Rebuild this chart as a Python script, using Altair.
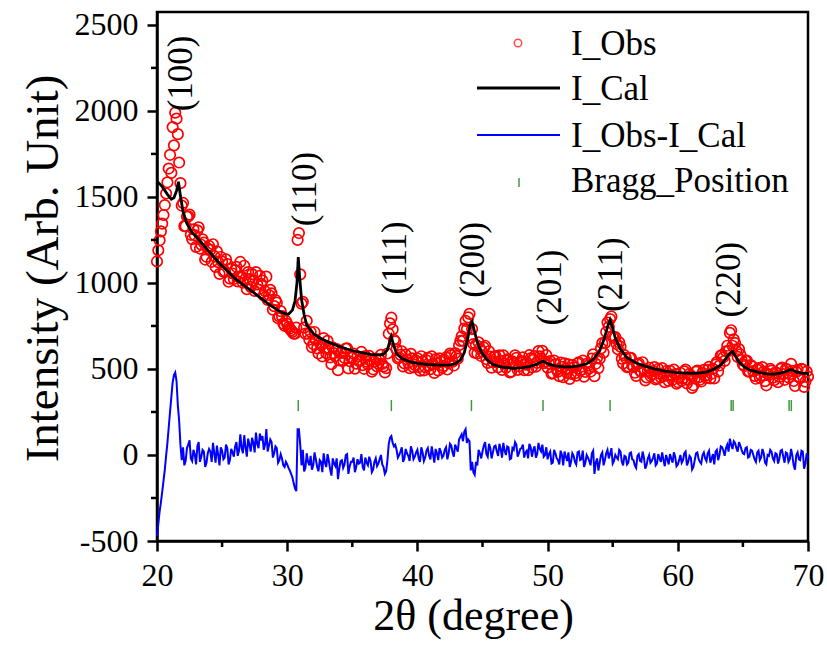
import altair as alt
import pandas as pd

# ---------------- data ----------------
# scan grid (0.2 deg step) and the interleaved mid points
two_theta = [round(20 + 0.2 * i, 1) for i in range(251)]
two_theta_mid = [round(20.1 + 0.2 * i, 1) for i in range(250)]

i_obs = [
    1125, 1248, 1345, 1453, 1585, 1745, 1906, 1990, 1865, 1580,
    1465, 1330, 1387, 1280, 1312, 1210, 1323, 1222, 1234, 1152,
    1215, 1123, 1156, 1184, 1053, 1124, 1069, 1110, 1025, 1055,
    1075, 1009, 1122, 1001, 1024, 1063, 977, 1015, 1063, 962,
    995, 928, 1037, 930, 940, 865, 885, 806, 807, 751,
    762, 735, 715, 705, 1250, 1050, 890, 705, 705, 715,
    645, 670, 590, 637, 679, 592, 620, 528, 592, 616,
    550, 595, 565, 620, 545, 566, 502, 574, 550, 522,
    575, 527, 550, 498, 561, 530, 582, 515, 505, 705,
    798, 670, 615, 568, 603, 532, 555, 505, 562, 524,
    562, 490, 543, 511, 565, 499, 528, 557, 492, 542,
    517, 567, 533, 581, 520, 575, 638, 690, 735, 730,
    820, 732, 595, 590, 620, 600, 635, 535, 572, 540,
    575, 510, 547, 579, 507, 550, 484, 534, 565, 516,
    546, 493, 536, 580, 510, 575, 535, 573, 605, 542,
    507, 546, 476, 527, 484, 537, 452, 502, 527, 472,
    509, 461, 538, 496, 455, 530, 503, 560, 458, 565,
    560, 650, 650, 770, 790, 690, 685, 615, 630, 532,
    565, 515, 565, 512, 460, 533, 482, 501, 451, 507,
    470, 511, 447, 473, 505, 423, 461, 489, 437, 470,
    424, 478, 447, 496, 436, 461, 405, 485, 451, 427,
    495, 448, 512, 472, 445, 540, 520, 580, 547, 635,
    710, 635, 650, 570, 585, 527, 548, 485, 522, 487,
    443, 505, 463, 485, 405, 466, 490, 435, 476, 454,
    508, 437, 498, 470, 489, 401, 495, 447, 496, 426,
    455,
]
i_obs_mid = [
    1190, 1300, 1395, 1520, 1665, 1640, 1800, 1955, 1700, 1450,
    1330, 1385, 1397, 1255, 1278, 1306, 1200, 1253, 1136, 1199,
    1192, 1225, 1093, 1121, 1151, 1066, 1137, 1007, 1082, 1023,
    1094, 1033, 1036, 1100, 964, 1022, 1051, 954, 992, 1041,
    1014, 952, 901, 960, 845, 900, 795, 836, 764, 779,
    743, 724, 705, 740, 1290, 880, 740, 780, 670, 627,
    715, 620, 651, 573, 620, 663, 567, 625, 574, 493,
    593, 548, 618, 503, 568, 589, 531, 547, 599, 501,
    543, 576, 484, 542, 515, 556, 529, 480, 590, 765,
    730, 660, 561, 582, 515, 583, 537, 588, 510, 548,
    511, 574, 492, 550, 519, 573, 477, 532, 562, 507,
    552, 497, 589, 542, 592, 560, 663, 665, 780, 800,
    680, 645, 640, 655, 575, 625, 557, 603, 508, 572,
    538, 579, 495, 533, 556, 480, 544, 579, 495, 541,
    567, 525, 493, 562, 553, 513, 604, 562, 534, 581,
    533, 473, 549, 495, 458, 512, 532, 477, 442, 523,
    475, 532, 490, 548, 483, 519, 485, 585, 530, 505,
    620, 595, 715, 745, 805, 680, 645, 655, 560, 580,
    510, 565, 521, 478, 527, 490, 539, 434, 489, 459,
    488, 439, 500, 451, 459, 487, 430, 463, 496, 415,
    448, 432, 486, 416, 471, 390, 445, 491, 437, 478,
    461, 495, 445, 501, 525, 485, 578, 568, 603, 605,
    725, 672, 605, 615, 552, 517, 549, 486, 515, 460,
    496, 449, 511, 429, 472, 500, 450, 481, 423, 501,
    470, 500, 451, 530, 430, 483, 453, 501, 396, 485,
]

i_diff = [
    -470, -330, -215, -85, 70, 250, 420, 480, 290, 60,
    45, -35, 60, -20, 30, -55, 75, -10, 20, -45,
    35, -40, 10, 55, -60, 25, -15, 40, -30, 15,
    50, -5, 120, 10, 45, 95, 20, 70, 130, 40,
    85, 30, 150, 55, 75, 10, 40, -30, -20, -70,
    -55, -90, -130, -195, 150, 60, 30, -75, -40, -5,
    -60, -25, -95, -40, 10, -70, -35, -120, -50, -20,
    -80, -30, -55, 5, -65, -40, -100, -25, -45, -70,
    -15, -60, -35, -85, -20, -50, 0, -70, -95, 65,
    110, 50, 30, 0, 45, -20, 10, -35, 25, -10,
    30, -40, 15, -15, 40, -25, 5, 35, -30, 20,
    -5, 45, 10, 55, -10, 40, 90, 120, 135, 70,
    80, -40, -115, -60, 10, 20, 75, -10, 40, 15,
    55, -5, 35, 70, 0, 45, -20, 30, 60, 10,
    40, -15, 25, 65, -10, 50, 5, 35, 60, 0,
    -25, 20, -45, 10, -30, 25, -60, -10, 15, -40,
    -5, -55, 20, -25, -70, 0, -35, 10, -110, -20,
    -45, 15, -30, 30, 5, -50, 0, -25, 20, -60,
    -10, -45, 15, -30, -75, 5, -40, -15, -60, 0,
    -35, 10, -50, -20, 15, -65, -25, 5, -45, -10,
    -55, 0, -30, 20, -40, -15, -70, 10, -25, -50,
    15, -35, 25, -20, -55, 30, 0, 45, -5, 60,
    95, 35, 70, 20, 55, 10, 40, -15, 30, 0,
    -40, 25, -15, 10, -55, -5, 20, -35, 5, -20,
    30, -45, 10, -25, -5, -85, 15, -30, 20, -50,
    -20,
]
i_diff_mid = [
    -400, -275, -150, -5, 160, 335, 465, 430, 200, -30,
    -60, 40, 85, -35, 5, 50, -40, 30, -70, 10,
    20, 70, -45, 0, 45, -25, 60, -55, 35, -10,
    75, 25, 40, 115, -10, 60, 100, 15, 65, 125,
    110, 60, 20, 90, -15, 50, -45, 5, -60, -40,
    -75, -110, -165, -210, 150, -60, -95, 10, -60, -85,
    15, -70, -30, -100, -45, 5, -85, -20, -65, -140,
    -35, -75, 0, -110, -40, -15, -70, -50, 5, -90,
    -45, -10, -100, -40, -65, -25, -55, -110, -30, 100,
    70, 60, -15, 20, -40, 35, -5, 50, -25, 15,
    -20, 45, -35, 25, -5, 50, -45, 10, 40, -15,
    30, -25, 65, 15, 60, 20, 105, 80, 150, 90,
    -90, -100, -40, 30, -20, 55, 5, 65, -20, 50,
    20, 65, -15, 25, 50, -25, 40, 75, -10, 35,
    60, 15, -20, 45, 30, -15, 70, 20, -10, 45,
    5, -50, 30, -20, -55, 0, 20, -35, -70, 10,
    -40, 15, -30, 25, -45, -15, -60, 25, -45, -90,
    0, -60, 10, -20, 40, -35, -15, 30, -40, -5,
    -55, 10, -25, -60, -5, -35, 20, -80, -20, -45,
    -15, -60, 5, -40, -30, 0, -55, -20, 15, -65,
    -30, -45, 10, -60, -5, -85, -30, 15, -40, 0,
    -20, 10, -45, 5, 20, -30, 50, 25, 40, 20,
    60, 80, 40, 75, 30, 5, 45, -10, 25, -25,
    15, -30, 35, -45, 0, 30, -20, 10, -50, 25,
    -10, 15, -40, 35, -60, 0, -25, 25, -80, 10,
]

cal_theta = [
    20.0, 20.4, 20.8, 21.1, 21.3, 21.5, 21.65, 21.8, 22.0, 22.3,
    22.7, 23.3, 24.0, 24.7, 25.4, 26.0, 26.7, 27.4, 28.0, 28.6,
    29.2, 29.7, 30.1, 30.4, 30.6, 30.75, 30.85, 30.95, 31.1, 31.3,
    31.5, 32.0, 32.5, 33.0, 33.5, 34.0, 34.6, 35.2, 35.8, 36.4,
    37.0, 37.4, 37.7, 37.9, 38.0, 38.15, 38.4, 38.8, 39.4, 40.0,
    40.8, 41.6, 42.4, 42.9, 43.3, 43.6, 43.85, 44.05, 44.2, 44.35,
    44.6, 44.9, 45.3, 45.8, 46.5, 47.3, 48.0, 48.6, 49.2, 49.5,
    49.65, 49.85, 50.1, 50.6, 51.2, 51.8, 52.4, 53.0, 53.5, 54.0,
    54.35, 54.6, 54.8, 54.95, 55.2, 55.6, 56.1, 56.8, 57.5, 58.2,
    59.0, 59.8, 60.6, 61.4, 62.2, 62.8, 63.3, 63.7, 64.0, 64.2,
    64.4, 64.7, 65.1, 65.6, 66.2, 66.8, 67.4, 67.9, 68.3, 68.6,
    68.8, 69.1, 69.5, 70.0,
]
i_cal = [
    1592, 1560, 1515, 1487, 1495, 1535, 1588, 1505, 1415, 1345,
    1292, 1245, 1182, 1122, 1070, 1025, 985, 945, 910, 875,
    845, 824, 818, 842, 895, 1000, 1150, 1040, 905, 815,
    755, 706, 680, 662, 646, 631, 616, 603, 593, 585,
    580, 586, 612, 665, 688, 645, 588, 560, 542, 532,
    526, 522, 522, 530, 552, 595, 670, 755, 775, 730,
    655, 600, 558, 526, 511, 504, 506, 514, 528, 540,
    545, 538, 528, 518, 512, 512, 518, 530, 555, 605,
    675, 745, 785, 750, 680, 615, 565, 535, 515, 500,
    488, 480, 476, 475, 482, 500, 524, 560, 593, 602,
    578, 540, 512, 493, 480, 472, 470, 476, 485, 495,
    495, 483, 476, 474,
]

bragg_pos = [30.85, 38.0, 44.15, 49.65, 54.8, 64.1, 64.25, 68.55, 68.72]
bragg_lo = [255] * len(bragg_pos)
bragg_hi = [320] * len(bragg_pos)

hkl = ["(100)", "(110)", "(111)", "(200)", "(201)", "(211)", "(220)"]
hkl_x = [21.85, 31.35, 38.25, 44.25, 50.15, 54.9, 63.9]
hkl_y = [2218, 1546, 1146, 1135, 973, 1048, 1019]

x_ticks = [20, 30, 40, 50, 60, 70]
x_minor = [25, 35, 45, 55, 65]
y_ticks = [-500, 0, 500, 1000, 1500, 2000, 2500]
y_minor = [-250, 250, 750, 1250, 1750, 2250]

legend_labels = ["I_Obs", "I_Cal", "I_Obs-I_Cal", "Bragg_Position"]

# ---------------- chart ----------------
W, H = 651, 529
FONT = "Liberation Serif"

xs = alt.Scale(domain=[20, 70], nice=False, zero=False)
ys = alt.Scale(domain=[-500, 2575], nice=False, zero=False)

common = dict(grid=False, domainColor="black", domainWidth=2.5, tickColor="black",
              tickWidth=2.5, labelFont=FONT, labelFontSize=32, labelColor="black",
              titleFont=FONT, titleColor="black", titleFontWeight="normal",
              labelFlush=False, labelOverlap=False, labelExpr="'' + datum.value",
              tickSize=10)

xaxis = alt.Axis(values=x_ticks, labelPadding=9, title="2θ (degree)", titleFontSize=44,
                 titleX=316, titleY=88, titleBaseline="alphabetic", titleAlign="center",
                 **common)
yaxis = alt.Axis(values=y_ticks, labelPadding=9, title="Intensity (Arb. Unit)",
                 titleFontSize=47, titleAngle=270, titleX=-100, titleY=256,
                 titleBaseline="alphabetic", titleAlign="center", **common)

df_obs = pd.concat([
    pd.DataFrame({"t": two_theta, "v": i_obs}),
    pd.DataFrame({"t": two_theta_mid, "v": i_obs_mid}),
]).sort_values("t")
df_diff = pd.concat([
    pd.DataFrame({"t": two_theta, "v": i_diff}),
    pd.DataFrame({"t": two_theta_mid, "v": i_diff_mid}),
]).sort_values("t")
df_cal = pd.DataFrame({"t": cal_theta, "v": i_cal})
df_bragg = pd.DataFrame({"t": bragg_pos, "lo": bragg_lo, "hi": bragg_hi})
df_hkl = pd.DataFrame({"t": hkl_x, "v": hkl_y, "lab": hkl})
df_xm = pd.DataFrame({"t": x_minor})
df_ym = pd.DataFrame({"v": y_minor})

X = alt.X("t:Q", scale=xs, axis=xaxis)
Y = alt.Y("v:Q", scale=ys, axis=yaxis)

obs = alt.Chart(df_obs).mark_point(shape="circle", filled=False, color="#ff0000",
                                   size=110, strokeWidth=1.7, opacity=1).encode(x=X, y=Y)

cal = alt.Chart(df_cal).mark_line(color="black", strokeWidth=2.8).encode(x=X, y=Y)

diff = alt.Chart(df_diff).mark_line(color="#0000ff", strokeWidth=2).encode(x=X, y=Y)

bragg = alt.Chart(df_bragg).mark_rule(color="#3f9a3f", strokeWidth=1.5).encode(
    x=X, y=alt.Y("lo:Q", scale=ys, axis=yaxis), y2="hi:Q")

labels = alt.Chart(df_hkl).mark_text(angle=270, font=FONT, fontSize=35, color="black",
                                     align="center", baseline="middle").encode(
    x=X, y=Y, text="lab:N")

xminor = alt.Chart(df_xm).mark_rule(color="black", strokeWidth=2.5).encode(
    x=X, y=alt.value(H), y2=alt.value(H + 6))
yminor = alt.Chart(df_ym).mark_rule(color="black", strokeWidth=2.5).encode(
    y=Y, x=alt.value(-6), x2=alt.value(0))

one = pd.DataFrame({"a": [0]})
leg_circle = alt.Chart(one).mark_point(shape="circle", filled=False, color="#ff0000",
                                       size=55, strokeWidth=1.5).encode(
    x=alt.value(361), y=alt.value(31))
leg_cal = alt.Chart(one).mark_rule(color="black", strokeWidth=3).encode(
    x=alt.value(320), x2=alt.value(403), y=alt.value(76))
leg_diff = alt.Chart(one).mark_rule(color="#0000ff", strokeWidth=2).encode(
    x=alt.value(320), x2=alt.value(403), y=alt.value(123))
leg_tick = alt.Chart(one).mark_rule(color="#3f9a3f", strokeWidth=1.5).encode(
    x=alt.value(362), y=alt.value(166), y2=alt.value(175))

leg_rows = [43, 88, 135, 180]
leg_text = [
    alt.Chart(one).mark_text(font=FONT, fontSize=35, color="black", align="left",
                             baseline="alphabetic").encode(
        x=alt.value(414), y=alt.value(yy), text=alt.value(lab))
    for lab, yy in zip(legend_labels, leg_rows)
]

chart = alt.layer(
    obs, cal, diff, bragg, labels, xminor, yminor,
    leg_circle, leg_cal, leg_diff, leg_tick, *leg_text,
).properties(
    width=W, height=H,
    autosize=alt.AutoSizeParams(type="none"),
    padding={"left": 157, "top": 12, "right": 19, "bottom": 108},
).configure_view(
    stroke="black", strokeWidth=2.5,
)

chart.save("out.html", embed_options={"renderer": "svg", "actions": False})
